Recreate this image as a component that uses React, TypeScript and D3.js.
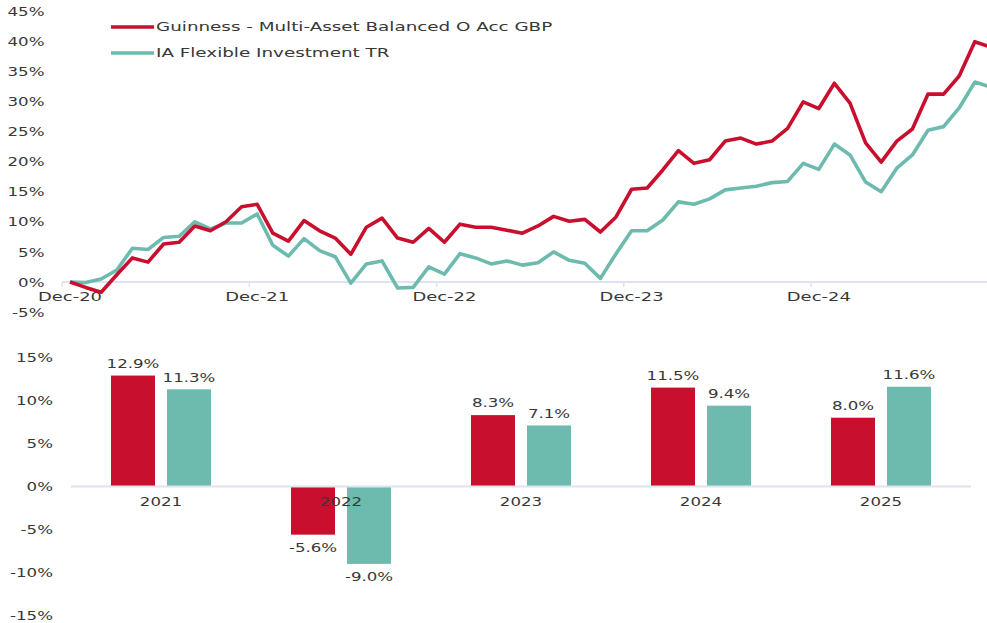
import React from "react";
import * as d3 from "d3";

// ---------- DATA ----------
const months: string[] = d3
  .timeMonths(new Date(2020, 11, 1), new Date(2025, 11, 1))
  .map((d) => d3.timeFormat("%b-%y")(d));

const guinness: number[] = [
  0, -0.9, -1.7, 1.2, 4.0, 3.3, 6.3, 6.6, 9.3, 8.5, 10.0, 12.5,
  12.9, 8.1, 6.8, 10.2, 8.5, 7.3, 4.6, 9.1, 10.6, 7.3, 6.6, 8.9,
  6.6, 9.6, 9.1, 9.1, 8.6, 8.1, 9.3, 10.9, 10.1, 10.4, 8.3, 10.8,
  15.4, 15.6, 18.6, 21.8, 19.7, 20.3, 23.4, 23.9, 22.9, 23.4, 25.5, 29.9,
  28.8, 33.0, 29.7, 23.1, 19.9, 23.4, 25.4, 31.2, 31.2, 34.2, 39.9, 39.0,
];

const iaFlex: number[] = [
  0, -0.1, 0.5, 2.0, 5.6, 5.4, 7.4, 7.6, 10.0, 8.8, 9.8, 9.8,
  11.3, 6.1, 4.3, 7.2, 5.2, 4.2, -0.2, 3.0, 3.5, -1.0, -0.9, 2.5,
  1.3, 4.7, 4.0, 3.0, 3.5, 2.8, 3.2, 5.0, 3.6, 3.1, 0.6, 4.7,
  8.5, 8.5, 10.3, 13.3, 12.9, 13.8, 15.3, 15.6, 15.9, 16.5, 16.7, 19.7,
  18.7, 22.9, 21.1, 16.6, 15.0, 18.9, 21.1, 25.2, 25.8, 28.9, 33.2, 32.4,
];

const seriesNames: string[] = [
  "Guinness - Multi-Asset Balanced O Acc GBP",
  "IA Flexible Investment TR",
];

const years: string[] = ["2021", "2022", "2023", "2024", "2025"];
const annualGuinness: number[] = [12.9, -5.6, 8.3, 11.5, 8.0];
const annualIA: number[] = [11.3, -9.0, 7.1, 9.4, 11.6];

const lineTicks: number[] = [45, 40, 35, 30, 25, 20, 15, 10, 5, 0, -5];
const barTicks: number[] = [15, 10, 5, 0, -5, -10, -15];
const xLabelMonths: string[] = ["Dec-20", "Dec-21", "Dec-22", "Dec-23", "Dec-24"];

// ---------- STYLE ----------
const RED = "#C8102E";
const TEAL = "#6CBBAE";
const TXT = "#383838";
const AXIS = "#dde3f1";
const FONT = "DejaVu Sans";
const SX_NUM = 1.28;
const SX_TXT = 1.38;
const SX_LEG = 1.41;

function T({ x, y, anchor = "middle", sx = SX_NUM, size = 13, children }: any) {
  return (
    <text
      transform={`translate(${x},${y}) scale(${sx},1)`}
      textAnchor={anchor}
      fontSize={size}
      fontFamily={FONT}
      fill={TXT}
      dy="0.36em"
    >
      {children}
    </text>
  );
}

export default function App() {
  const W = 987;
  const H = 623;

  // Line chart scales
  const xBand = d3.scaleBand<string>().domain(months).range([62.2, 62.2 + 60 * 15.6]).padding(0);
  const bw = xBand.bandwidth();
  const yLine = d3.scaleLinear().domain([-5, 45]).range([312.1, 11]);
  const xc = (i: number) => (xBand(months[i]) as number) + bw / 2;

  const line = d3
    .line<number>()
    .x((_, i) => xc(i))
    .y((d) => yLine(d))
    .curve(d3.curveLinear);

  // Bar chart scales
  const xYear = d3.scaleBand<string>().domain(years).range([71, 971]).padding(0);
  const yBar = d3.scaleLinear().domain([-15, 15]).range([615.5, 357.5]);
  const barW = 44;
  const gap = 6;

  const bars: { x: number; v: number; color: string }[] = [];
  years.forEach((yr, i) => {
    const c = (xYear(yr) as number) + xYear.bandwidth() / 2;
    bars.push({ x: c - gap - barW, v: annualGuinness[i], color: RED });
    bars.push({ x: c + gap, v: annualIA[i], color: TEAL });
  });

  return (
    <div style={{ position: "absolute", left: 0, top: 0, width: W, height: H, overflow: "hidden", background: "#fff" }}>
      <svg width={W} height={H} style={{ display: "block" }}>
        <rect width={W} height={H} fill="#fff" />

        {/* ---- Line chart ---- */}
        {lineTicks.map((t) => (
          <T key={"ly" + t} x={44.5} y={yLine(t)} anchor="end">
            {t + "%"}
          </T>
        ))}
        <line x1={62.2} x2={1000} y1={yLine(0)} y2={yLine(0)} stroke={AXIS} strokeWidth={2} />
        {xLabelMonths.map((m) => {
          const x0 = xBand(m) as number;
          return (
            <g key={m}>
              <line x1={x0} x2={x0} y1={yLine(0)} y2={yLine(0) + 5} stroke={AXIS} strokeWidth={1.5} />
              <T x={x0 + bw / 2} y={296} sx={SX_TXT}>
                {m}
              </T>
            </g>
          );
        })}
        <path d={line(iaFlex) as string} fill="none" stroke={TEAL} strokeWidth={3.6} strokeLinejoin="round" />
        <path d={line(guinness) as string} fill="none" stroke={RED} strokeWidth={3.6} strokeLinejoin="round" />

        {/* Legend */}
        <line x1={111} x2={154} y1={27} y2={27} stroke={RED} strokeWidth={3.6} />
        <T x={156} y={26.5} anchor="start" sx={SX_LEG}>
          {seriesNames[0]}
        </T>
        <line x1={111} x2={154} y1={53} y2={53} stroke={TEAL} strokeWidth={3.6} />
        <T x={156} y={52.5} anchor="start" sx={SX_LEG}>
          {seriesNames[1]}
        </T>

        {/* ---- Bar chart ---- */}
        {barTicks.map((t) => (
          <T key={"by" + t} x={53} y={yBar(t)} anchor="end">
            {t + "%"}
          </T>
        ))}
        {bars.map((b, i) => {
          const y0 = yBar(0);
          const y1 = yBar(b.v);
          return (
            <g key={"b" + i}>
              <rect x={b.x} y={Math.min(y0, y1)} width={barW} height={Math.abs(y1 - y0)} fill={b.color} />
              <T x={b.x + barW / 2} y={b.v >= 0 ? y1 - 12.5 : y1 + 12.5}>
                {b.v.toFixed(1) + "%"}
              </T>
            </g>
          );
        })}
        <line x1={71} x2={971} y1={yBar(0)} y2={yBar(0)} stroke={AXIS} strokeWidth={2} />
        {years.map((yr) => (
          <T key={yr} x={(xYear(yr) as number) + xYear.bandwidth() / 2} y={501}>
            {yr}
          </T>
        ))}
      </svg>
    </div>
  );
}
